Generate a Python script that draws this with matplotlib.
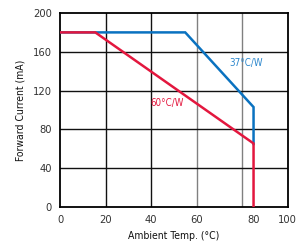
import matplotlib
matplotlib.use("Agg")
import matplotlib.pyplot as plt

# Data
temp_37 = [0, 55, 85, 85]
curr_37 = [180, 180, 103, 65]
temp_60 = [0, 15.5, 85, 85]
curr_60 = [180, 180, 65.5, 0]

x_tick_pos = [0, 20, 40, 60, 85, 100]
x_tick_labels = ["0", "20", "40", "60", "80", "100"]
x_grid = [20, 40, 60, 80]
y_ticks = [0, 40, 80, 120, 160, 200]

plt.rcParams["font.family"] = ["DejaVu Sans"]
plt.rcParams["font.stretch"] = "condensed"

fig = plt.figure(figsize=(2.97, 2.43), dpi=100)
ax = fig.add_axes([60/297, 36/243, 227.7/297, 194/243])

ax.set_xlim(0, 100)
ax.set_ylim(0, 200)

for g in x_grid:
    ax.axvline(g, color="#111111" if g < 60 else "#808080", lw=1.0, zorder=1)
for g in y_ticks[1:-1]:
    ax.axhline(g, color="#111111", lw=1.0, zorder=1)

ax.plot(temp_37, curr_37, color="#0a72c0", lw=1.8, zorder=3, solid_joinstyle="miter")
ax.plot(temp_60, curr_60, color="#e3173e", lw=1.8, zorder=4, solid_joinstyle="miter")

ax.text(74.2, 148.5, "37°C/W", color="#2a86cc", fontsize=7, ha="left", va="center",
        fontstretch="condensed")
ax.text(39.5, 107, "60°C/W", color="#e3173e", fontsize=7, ha="left", va="center",
        fontstretch="condensed")

ax.set_xticks(x_tick_pos)
ax.set_xticklabels(x_tick_labels)
ax.set_yticks(y_ticks)
ax.tick_params(length=0, labelsize=8, colors="#333333", pad=6)
for s in ax.spines.values():
    s.set_color("black")
    s.set_linewidth(1.3)
ax.set_xlabel("Ambient Temp. (°C)", fontsize=7.5, labelpad=4, color="#111111",
              fontstretch="condensed")
ax.set_ylabel("Forward Current (mA)", fontsize=7.5, labelpad=5, color="#111111",
              fontstretch="condensed")

fig.savefig("out.png", dpi=100)
